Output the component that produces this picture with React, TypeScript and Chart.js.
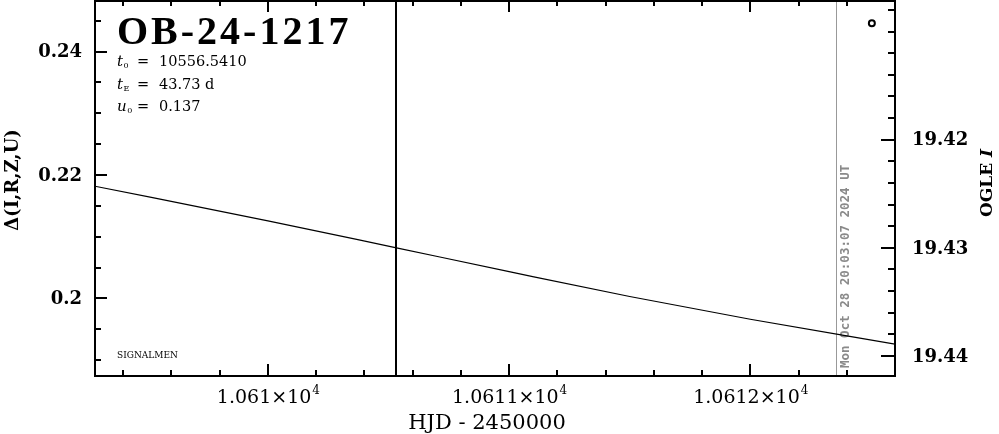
import React, { useEffect, useRef } from 'react';
import { Chart, registerables } from 'chart.js';

Chart.register(...registerables);

// ---- data ----
const curveHJD = [10609.283, 10610.0, 10610.533, 10611.0, 10611.5, 10612.0, 10612.6];
const curveMag = [19.4243, 19.4275, 19.43, 19.4322, 19.4345, 19.4366, 19.4389];
const markerHJD = [10612.504];
const markerDelta = [0.2446];

const xRange = [10609.283, 10612.6];
const yRange = [0.18744, 0.24836];
const y2Range = [19.40708, 19.44185];

const xMajorTicks = [10610, 10611, 10612];
const xTickMantissa = ['1.061×10', '1.0611×10', '1.0612×10'];
const xTickExponent = ['4', '4', '4'];
const xMinorTicks = [10609.4, 10609.6, 10609.8, 10610.2, 10610.4, 10610.6, 10610.8, 10611.2, 10611.4, 10611.6, 10611.8, 10612.2, 10612.4];

const yMajorTicks = [0.2, 0.22, 0.24];
const yTickLabels = ['0.2', '0.22', '0.24'];
const yMinorTicks = [0.19, 0.195, 0.205, 0.21, 0.215, 0.225, 0.23, 0.235, 0.245];

const y2MajorTicks = [19.42, 19.43, 19.44];
const y2TickLabels = ['19.42', '19.43', '19.44'];
const y2MinorTicks = [19.408, 19.41, 19.412, 19.414, 19.416, 19.418, 19.422, 19.424, 19.426, 19.428, 19.432, 19.434, 19.436, 19.438];

const nowHJD = [10610.533];
const stampHJD = [10612.355];
const stampText = 'Mon Oct 28 20:03:07 2024 UT';

const eventName = 'OB-24-1217';
const paramSymbols = ['t', 't', 'u'];
const paramSubs = ['0', 'E', '0'];
const paramValues = ['10556.5410', '43.73 d', '0.137'];
const creditText = 'SIGNALMEN';
const xTitle = 'HJD - 2450000';
const yTitle = 'Δ(I,R,Z,U)';
const y2TitleMain = 'OGLE ';
const y2TitleItalic = 'I';

const SERIF = '"DejaVu Serif", serif';

const overlayPlugin = {
  id: 'overlay',
  beforeDatasetsDraw(chart: any) {
    const { ctx, chartArea } = chart;
    const xs = chart.scales.x;
    ctx.save();
    ctx.strokeStyle = '#000';
    ctx.lineWidth = 2;
    nowHJD.forEach((v) => {
      const px = Math.round(xs.getPixelForValue(v));
      ctx.beginPath();
      ctx.moveTo(px, chartArea.top);
      ctx.lineTo(px, chartArea.bottom);
      ctx.stroke();
    });
    ctx.strokeStyle = '#999';
    ctx.lineWidth = 1;
    stampHJD.forEach((v) => {
      const px = Math.round(xs.getPixelForValue(v)) + 0.5;
      ctx.beginPath();
      ctx.moveTo(px, chartArea.top);
      ctx.lineTo(px, chartArea.bottom);
      ctx.stroke();
      ctx.save();
      ctx.fillStyle = '#8a8a8a';
      ctx.font = 'bold 12.5px "DejaVu Sans Mono", monospace';
      ctx.translate(px + 9, chartArea.bottom - 8);
      ctx.rotate(-Math.PI / 2);
      ctx.textAlign = 'left';
      ctx.textBaseline = 'middle';
      ctx.fillText(stampText, 0, 0);
      ctx.restore();
    });
    ctx.restore();
  },
  afterDraw(chart: any) {
    const { ctx, chartArea } = chart;
    const { left, right, top, bottom } = chartArea;
    const xs = chart.scales.x;
    const ys = chart.scales.y;
    const y2s = chart.scales.y2;
    ctx.save();
    ctx.strokeStyle = '#000';
    ctx.fillStyle = '#000';
    ctx.lineWidth = 2;
    // frame
    ctx.strokeRect(left, top + 1, right - left, bottom - top - 1);

    const MAJ = 12;
    const MIN = 6;
    const xTick = (v: number, len: number) => {
      const px = Math.round(xs.getPixelForValue(v));
      ctx.beginPath();
      ctx.moveTo(px, bottom);
      ctx.lineTo(px, bottom - len);
      ctx.moveTo(px, top);
      ctx.lineTo(px, top + len);
      ctx.stroke();
    };
    xMajorTicks.forEach((v) => xTick(v, MAJ));
    xMinorTicks.forEach((v) => xTick(v, MIN));
    const yTick = (v: number, len: number) => {
      const py = Math.round(ys.getPixelForValue(v));
      ctx.beginPath();
      ctx.moveTo(left, py);
      ctx.lineTo(left + len, py);
      ctx.stroke();
    };
    yMajorTicks.forEach((v) => yTick(v, MAJ));
    yMinorTicks.forEach((v) => yTick(v, MIN));
    const y2Tick = (v: number, len: number) => {
      const py = Math.round(y2s.getPixelForValue(v));
      ctx.beginPath();
      ctx.moveTo(right, py);
      ctx.lineTo(right - len, py);
      ctx.stroke();
    };
    y2MajorTicks.forEach((v) => y2Tick(v, MAJ + 2));
    y2MinorTicks.forEach((v) => y2Tick(v, MIN + 1));

    // tick labels
    ctx.textBaseline = 'middle';
    ctx.font = `bold 18px ${SERIF}`;
    ctx.textAlign = 'right';
    yMajorTicks.forEach((v, i) => {
      ctx.fillText(yTickLabels[i], left - 13, ys.getPixelForValue(v) + 1);
    });
    ctx.textAlign = 'left';
    y2MajorTicks.forEach((v, i) => {
      ctx.fillText(y2TickLabels[i], right + 17, y2s.getPixelForValue(v) + 1);
    });
    xMajorTicks.forEach((v, i) => {
      const px = xs.getPixelForValue(v);
      ctx.font = `19px ${SERIF}`;
      const w1 = ctx.measureText(xTickMantissa[i]).width;
      ctx.font = `12px ${SERIF}`;
      const w2 = ctx.measureText(xTickExponent[i]).width;
      const x0 = px - (w1 + w2) / 2;
      ctx.textAlign = 'left';
      ctx.font = `19px ${SERIF}`;
      ctx.fillText(xTickMantissa[i], x0, bottom + 22);
      ctx.font = `12px ${SERIF}`;
      ctx.fillText(xTickExponent[i], x0 + w1 + 1, bottom + 15);
    });

    // axis titles
    ctx.textAlign = 'center';
    ctx.font = `21px ${SERIF}`;
    ctx.fillText(xTitle, (left + right) / 2 - 8, bottom + 48);

    ctx.save();
    ctx.translate(13, 180);
    ctx.rotate(-Math.PI / 2);
    ctx.font = `bold 18px ${SERIF}`;
    ctx.textAlign = 'center';
    ctx.fillText(yTitle, 0, 0);
    ctx.restore();

    ctx.save();
    ctx.translate(988, 183);
    ctx.rotate(-Math.PI / 2);
    ctx.font = `bold 17px ${SERIF}`;
    const wa = ctx.measureText(y2TitleMain).width;
    ctx.font = `bold italic 17px ${SERIF}`;
    const wb = ctx.measureText(y2TitleItalic).width;
    ctx.textAlign = 'left';
    ctx.font = `bold 17px ${SERIF}`;
    ctx.fillText(y2TitleMain, -(wa + wb) / 2, 0);
    ctx.font = `bold italic 17px ${SERIF}`;
    ctx.fillText(y2TitleItalic, -(wa + wb) / 2 + wa, 0);
    ctx.restore();

    // event name
    ctx.textAlign = 'left';
    ctx.textBaseline = 'alphabetic';
    ctx.font = 'bold 40px "Liberation Serif", serif';
    try { (ctx as any).letterSpacing = '3px'; } catch (e) {}
    ctx.fillText(eventName, left + 22, top + 44);
    try { (ctx as any).letterSpacing = '0px'; } catch (e) {}

    // parameters
    const rowY = [62, 85, 107];
    ctx.textBaseline = 'middle';
    paramSymbols.forEach((s, i) => {
      const yy = top + rowY[i];
      ctx.font = `italic 15px ${SERIF}`;
      ctx.fillText(s, left + 22, yy);
      const ws = ctx.measureText(s).width;
      ctx.font = `8px ${SERIF}`;
      ctx.fillText(paramSubs[i], left + 22 + ws + 0.5, yy + 4);
      ctx.font = `14.5px ${SERIF}`;
      ctx.fillText('=', left + 42, yy);
      ctx.fillText(paramValues[i], left + 64, yy);
    });

    ctx.font = `9px ${SERIF}`;
    ctx.fillText(creditText, left + 22, 356);
    ctx.restore();
  },
};

export default function App() {
  const ref = useRef<HTMLCanvasElement | null>(null);
  useEffect(() => {
    if (!ref.current) return;
    const chart = new Chart(ref.current, {
      type: 'scatter',
      data: {
        datasets: [
          {
            type: 'line',
            data: curveHJD.map((x, i) => ({ x, y: curveMag[i] })),
            xAxisID: 'x',
            yAxisID: 'y2',
            borderColor: '#000',
            borderWidth: 1.2,
            pointRadius: 0,
            cubicInterpolationMode: 'monotone',
            fill: false,
          } as any,
          {
            type: 'scatter',
            data: markerHJD.map((x, i) => ({ x, y: markerDelta[i] })),
            xAxisID: 'x',
            yAxisID: 'y',
            pointRadius: 3,
            borderWidth: 2,
            borderColor: '#000',
            backgroundColor: '#fff',
          } as any,
        ],
      },
      options: {
        animation: false,
        responsive: false,
        devicePixelRatio: 1,
        layout: { padding: 0, autoPadding: false },
        plugins: { legend: { display: false }, tooltip: { enabled: false } },
        scales: {
          x: {
            type: 'linear',
            position: 'bottom',
            min: xRange[0],
            max: xRange[1],
            grid: { display: false },
            border: { display: false },
            ticks: { display: false },
            afterFit: (s: any) => { s.height = 58; },
          },
          y: {
            type: 'linear',
            position: 'left',
            min: yRange[0],
            max: yRange[1],
            grid: { display: false },
            border: { display: false },
            ticks: { display: false },
            afterFit: (s: any) => { s.width = 95; },
          },
          y2: {
            type: 'linear',
            position: 'right',
            reverse: true,
            min: y2Range[0],
            max: y2Range[1],
            grid: { display: false },
            border: { display: false },
            ticks: { display: false },
            afterFit: (s: any) => { s.width = 104; },
          },
        },
      } as any,
      plugins: [overlayPlugin],
    });
    return () => chart.destroy();
  }, []);
  return (
    <div style={{ position: 'absolute', left: 0, top: 0, width: 999, height: 434, background: '#fff' }}>
      <canvas ref={ref} width={999} height={434} style={{ display: 'block', width: 999, height: 434 }} />
    </div>
  );
}
